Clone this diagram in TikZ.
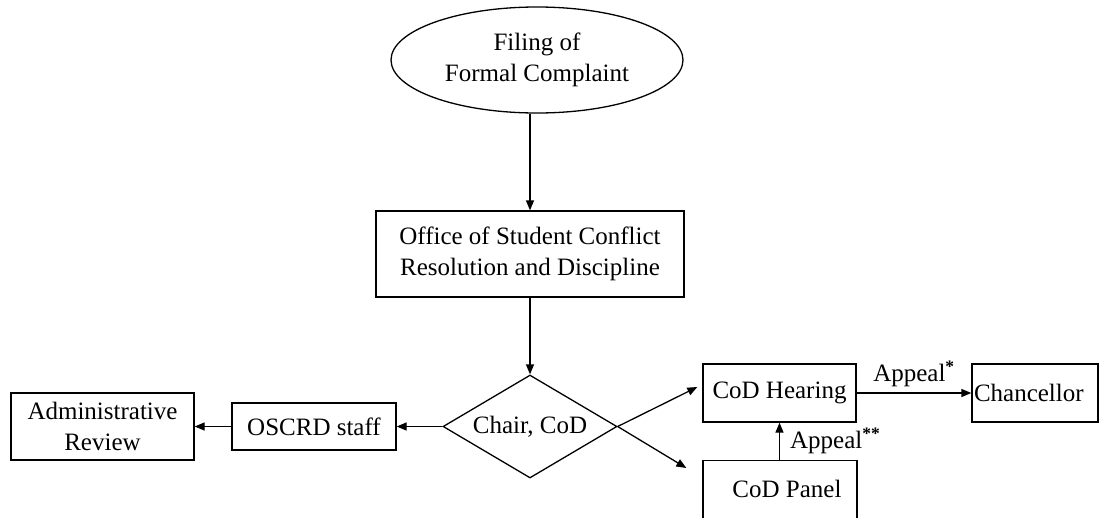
\documentclass[tikz,border=0pt]{standalone}
\usepackage{fontspec}
\setmainfont{Liberation Serif}
\usetikzlibrary{shapes.geometric,arrows.meta}
\begin{document}
\begin{tikzpicture}[x=1pt,y=-1pt,
  every node/.style={font=\fontsize{25}{30.5}\selectfont, inner sep=0pt},
  box/.style={draw, line width=1.3pt, rectangle, align=center},
  arr/.style={line width=1.3pt, -{Triangle[length=10pt,width=8pt]}}
]
\useasboundingbox (0,0) rectangle (1100,517);
\clip (0,0) rectangle (1100,517);

\node[draw, ellipse, line width=1.3pt, minimum width=292pt, minimum height=106pt, align=center] (ell) at (537,60) {Filing of\\Formal Complaint};
\node[box, minimum width=308pt, minimum height=86pt] (off) at (530,254) {Office of Student Conflict\\Resolution and Discipline};
\node[draw, diamond, line width=1.3pt, shape aspect=1.69, minimum width=174pt, minimum height=103pt] (dia) at (530,426.5) {Chair, CoD};
\node[box, minimum width=164pt, minimum height=47pt] (osc) at (314,426.5) {OSCRD staff};
\node[box, minimum width=183pt, minimum height=67pt] (adm) at (102.5,426.5) {Administrative\\Review};
\node[box, minimum width=153pt, minimum height=58pt] (hear) at (779.5,393) {CoD Hearing};
\node[box, minimum width=126pt, minimum height=58pt, text width=122pt, inner xsep=2pt, align=left] (chan) at (1035,393) {Chancellor};
\node[box, minimum width=154pt, minimum height=80pt, anchor=north] (pan) at (780,460) {};
\node (pant) at (787,488.5) {CoD Panel};

\draw[arr] (ell.south -| off.north) -- (off.north);
\draw[arr] (off.south) -- (dia.north);
\draw[arr] (dia.west) -- (osc.east);
\draw[arr] (osc.west) -- (adm.east);
\draw[arr] (dia.east) -- ([xshift=-5pt,yshift=6pt]hear.west);
\coordinate (panin) at ([xshift=-16pt,yshift=-8pt]pan.north west);
\draw[arr] (dia.east) -- (panin);
\draw[arr] (pan.north -| hear.south) -- (hear.south) node[midway, anchor=west, xshift=10pt] {Appeal\textsuperscript{\textbf{**}}};
\draw[arr] (hear.east) -- (chan.west) node[midway, above=3.5pt, inner sep=2pt] {Appeal\textsuperscript{\textbf{*}}};
\end{tikzpicture}
\end{document}
